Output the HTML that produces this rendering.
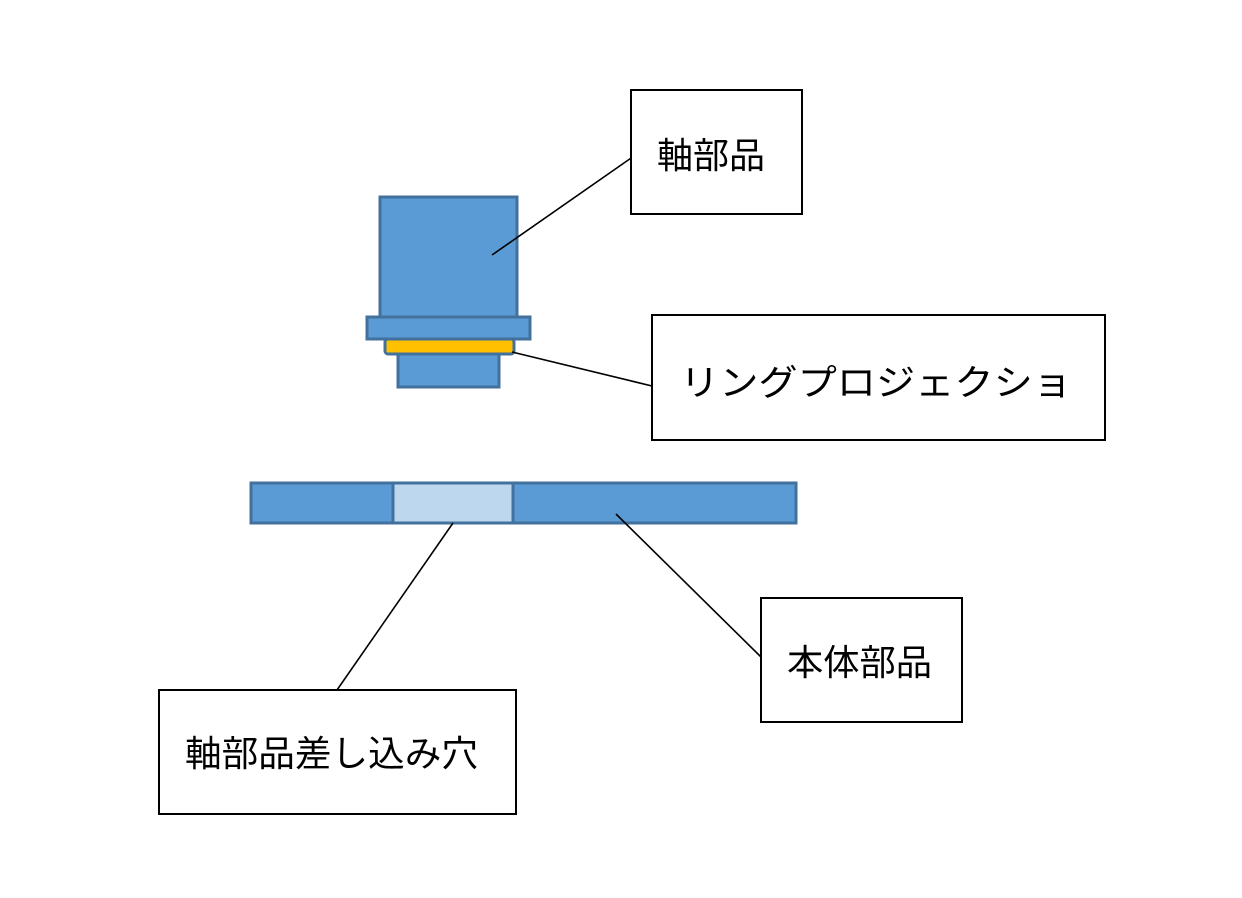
<!DOCTYPE html>
<html><head><meta charset="utf-8"><style>html,body{margin:0;padding:0;background:#fff}svg{display:block}</style></head>
<body>
<svg width="1242" height="898" viewBox="0 0 1242 898" xmlns="http://www.w3.org/2000/svg" font-family="'Liberation Sans','Noto Sans CJK JP',sans-serif">
<rect width="1242" height="898" fill="#fff"/>
<g stroke="#41719c" stroke-width="3" fill="#5b9bd5">
<rect x="380" y="197" width="137" height="120"/>
<rect x="367" y="317" width="163" height="22"/>
<rect x="385" y="339" width="129" height="15" rx="3" fill="#ffc000"/>
<rect x="398" y="354" width="101" height="33"/>
<rect x="251" y="483" width="545" height="40"/>
<rect x="393" y="483" width="120" height="40" fill="#bdd7ee"/>
</g>
<g stroke="#000" stroke-width="1.6">
<line x1="492" y1="255" x2="634" y2="156"/>
<line x1="512" y1="352" x2="652" y2="386"/>
<line x1="453" y1="523" x2="337" y2="690"/>
<line x1="616" y1="514" x2="761" y2="657"/>
</g>
<g stroke="#000" stroke-width="2" fill="#fff">
<rect x="631" y="90" width="171" height="124"/>
<rect x="652" y="315" width="453" height="125"/>
<rect x="761" y="598" width="201" height="124"/>
<rect x="159" y="690" width="357" height="124"/>
</g>
<g font-size="36" fill="#000">
<text x="657" y="168" textLength="108" lengthAdjust="spacingAndGlyphs">軸部品</text>
<text x="680" y="395" textLength="392" lengthAdjust="spacingAndGlyphs">リングプロジェクショ</text>
<text x="787" y="675" textLength="145" lengthAdjust="spacingAndGlyphs">本体部品</text>
<text x="185" y="766" textLength="293" lengthAdjust="spacingAndGlyphs">軸部品差し込み穴</text>
</g>
</svg>
</body></html>
